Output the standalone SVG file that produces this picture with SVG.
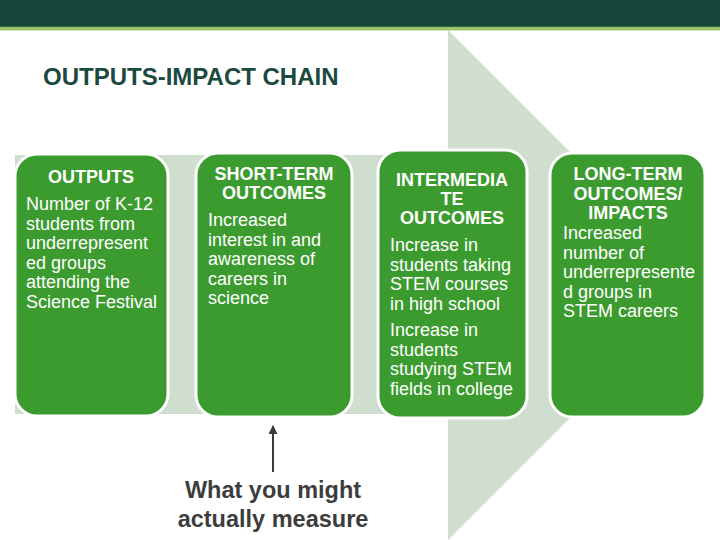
<svg xmlns="http://www.w3.org/2000/svg" width="720" height="540" viewBox="0 0 720 540">
<defs>
<style>
.box{fill:#3c9b2f;stroke:#ffffff;stroke-width:3}
.h{font-family:"Liberation Sans",Arial,sans-serif;font-weight:bold;font-size:18px;fill:#ffffff;text-anchor:middle}
.b{font-family:"Liberation Sans",Arial,sans-serif;font-size:18px;fill:#ffffff}
.m{font-family:"Liberation Sans",Arial,sans-serif;font-weight:bold;font-size:23.5px;fill:#3d3d3d;text-anchor:middle}
</style>
<marker id="ah" viewBox="0 0 10 10" refX="9" refY="5" markerWidth="4.5" markerHeight="4.5" orient="auto" markerUnits="strokeWidth">
<path d="M0,0 L10,5 L0,10 z" fill="#3a3a3a"/>
</marker>
</defs>
<rect x="0" y="0" width="720" height="540" fill="#ffffff"/>
<rect x="0" y="0" width="720" height="27" fill="#18453b"/>
<rect x="0" y="26" width="720" height="1.5" fill="#2f6a2a"/>
<rect x="0" y="27.5" width="720" height="3" fill="#9bc56b"/>
<text x="43" y="85" font-family="Liberation Sans, Arial, sans-serif" font-weight="bold" font-size="24" fill="#1b4a3f">OUTPUTS-IMPACT CHAIN</text>
<polygon points="15,155 448,155 448,30 703,285 448,540 448,414 15,414" fill="#cfdece"/>
<g id="connectors">
<line x1="273" y1="472" x2="273" y2="426" stroke="#3a3a3a" stroke-width="2" marker-end="url(#ah)"/>
</g>
<g id="outputs">
<rect class="box" x="15" y="154" width="153" height="262" rx="22"/>
<text x="91" y="183" class="h" font-size="20.5">OUTPUTS</text>
<text class="b"><tspan x="26" y="210">Number of K-12</tspan><tspan x="26" y="229.5">students from</tspan><tspan x="26" y="249">underrepresent</tspan><tspan x="26" y="268.5">ed groups</tspan><tspan x="26" y="288">attending the</tspan><tspan x="26" y="307.5">Science Festival</tspan></text>
</g>
<g id="short-term">
<rect class="box" x="196" y="153" width="156" height="264" rx="22"/>
<text class="h"><tspan x="274" y="180">SHORT-TERM</tspan><tspan x="274" y="199">OUTCOMES</tspan></text>
<text class="b"><tspan x="208" y="226">Increased</tspan><tspan x="208" y="245.5">interest in and</tspan><tspan x="208" y="265">awareness of</tspan><tspan x="208" y="284.5">careers in</tspan><tspan x="208" y="304">science</tspan></text>
</g>
<g id="intermediate">
<rect class="box" x="378" y="150" width="149" height="268" rx="22"/>
<text class="h"><tspan x="452" y="186">INTERMEDIA</tspan><tspan x="452" y="205">TE</tspan><tspan x="452" y="224">OUTCOMES</tspan></text>
<text class="b"><tspan x="390" y="251">Increase in</tspan><tspan x="390" y="270.5">students taking</tspan><tspan x="390" y="290">STEM courses</tspan><tspan x="390" y="309.5">in high school</tspan><tspan x="390" y="336">Increase in</tspan><tspan x="390" y="355.5">students</tspan><tspan x="390" y="375">studying STEM</tspan><tspan x="390" y="394.5">fields in college</tspan></text>
</g>
<g id="long-term">
<rect class="box" x="550" y="153" width="155" height="264" rx="22"/>
<text class="h"><tspan x="628" y="180">LONG-TERM</tspan><tspan x="628" y="199.5">OUTCOMES/</tspan><tspan x="628" y="219">IMPACTS</tspan></text>
<text class="b"><tspan x="563" y="239">Increased</tspan><tspan x="563" y="258.5">number of</tspan><tspan x="563" y="278">underrepresente</tspan><tspan x="563" y="297.5">d groups in</tspan><tspan x="563" y="317">STEM careers</tspan></text>
</g>
<g id="measure-note">
<text class="m"><tspan x="273" y="498">What you might</tspan><tspan x="273" y="527">actually measure</tspan></text>
</g>
</svg>
